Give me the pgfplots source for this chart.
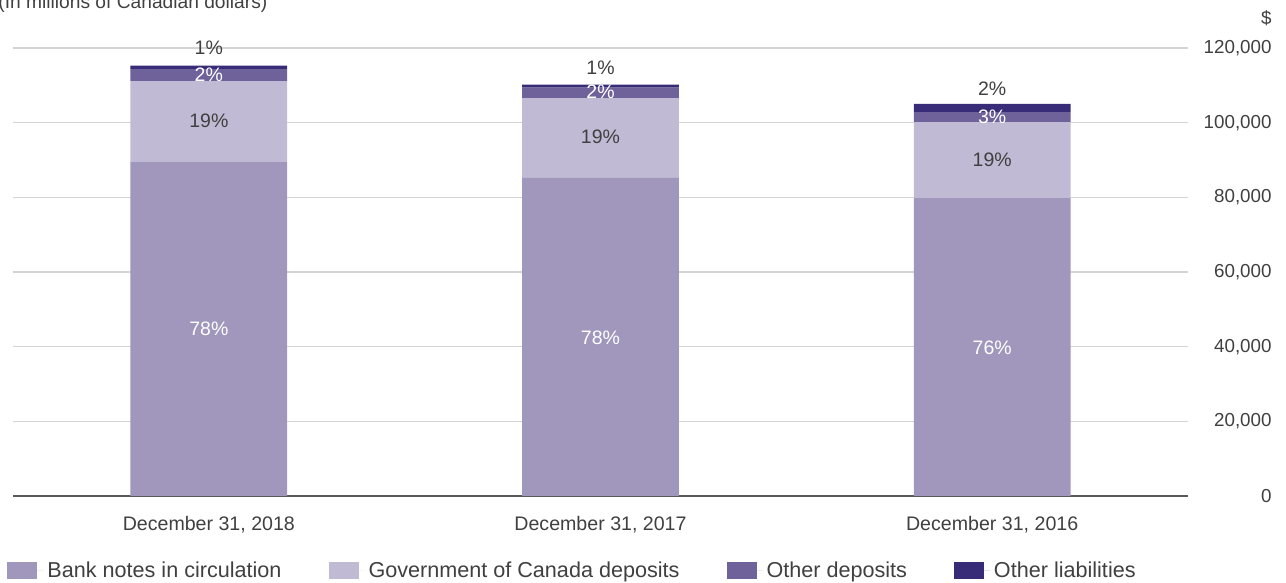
\documentclass[border=0pt]{standalone}
\usepackage{pgfplots}
\pgfplotsset{compat=1.18}
\usepackage{fontspec}
\setmainfont{Liberation Sans}
\definecolor{cA}{HTML}{A196BC}
\definecolor{cB}{HTML}{C1BAD4}
\definecolor{cC}{HTML}{6F6199}
\definecolor{cD}{HTML}{382C78}
\definecolor{txt}{HTML}{404040}
\definecolor{gridc}{HTML}{D4D4D4}
\tikzset{pl/.style={font=\fontsize{9.75}{11}\selectfont}}
\begin{document}
\begin{tikzpicture}
\useasboundingbox (-6.5pt,-43.5pt) rectangle (636.5pt,248pt);
\begin{axis}[
  at={(0pt,0pt)}, anchor=south west,
  scale only axis, width=587.5pt, height=224pt,
  xmin=-0.5, xmax=2.5, ymin=0, ymax=120000,
  ybar stacked, bar width=0.4,
  xtick={0,1,2},
  xticklabels={{December 31, 2018}, {December 31, 2017}, {December 31, 2016}},
  ytick={0,20000,40000,60000,80000,100000,120000},
  yticklabels={0,{20,000},{40,000},{60,000},{80,000},{100,000},{120,000}},
  scaled y ticks=false,
  axis x line*=bottom, axis y line*=right,
  y axis line style={draw=none},
  x axis line style={color=black!65, line width=0.6pt},
  major tick length=0pt,
  ymajorgrids, grid style={color=gridc, line width=0.6pt},
  yticklabel style={anchor=east, inner sep=0pt, xshift=42pt, font=\fontsize{9.4}{11}\selectfont, text=txt},
  xticklabel style={font=\fontsize{9.8}{11}\selectfont, text=txt, yshift=-6.5pt},
  clip=false,
  legend columns=4,
  legend style={at={(-0.0051,-0.1674)}, anchor=west, draw=none, inner sep=0pt,
    font=\fontsize{10.8}{12}\selectfont, text=txt,
    /tikz/every even column/.append style={column sep=21.5pt}},
  legend image code/.code={\fill[#1] (0pt,-4.25pt) rectangle (15pt,4.25pt); \path (0pt,0pt) -- (18pt,0pt);},
  legend cell align=left,
]
\addplot[fill=cA, draw=none] coordinates {(0,89460) (1,85180) (2,79820)};
\addplot[fill=cB, draw=none] coordinates {(0,21690) (1,21420) (2,20350)};
\addplot[fill=cC, draw=none] coordinates {(0,3220) (1,2760) (2,2680)};
\addplot[fill=cD, draw=none] coordinates {(0,890) (1,810) (2,2150)};
\legend{Bank notes in circulation, Government of Canada deposits, Other deposits, Other liabilities}
\coordinate (a1) at (axis cs:0,44700);
\coordinate (a2) at (axis cs:0,100400);
\coordinate (a3) at (axis cs:0,112900);
\coordinate (a4) at (axis cs:0,120000);
\coordinate (b1) at (axis cs:1,42500);
\coordinate (b2) at (axis cs:1,96100);
\coordinate (b3) at (axis cs:1,108200);
\coordinate (b4) at (axis cs:1,114600);
\coordinate (c1) at (axis cs:2,39800);
\coordinate (c2) at (axis cs:2,90000);
\coordinate (c3) at (axis cs:2,101500);
\coordinate (c4) at (axis cs:2,109000);
\end{axis}
\node[pl, text=white] at (a1) {78\%};
\node[pl, text=txt] at (a2) {19\%};
\node[pl, text=white] at (a3) {2\%};
\node[pl, text=txt] at (a4) {1\%};
\node[pl, text=white] at (b1) {78\%};
\node[pl, text=txt] at (b2) {19\%};
\node[pl, text=white] at (b3) {2\%};
\node[pl, text=txt] at (b4) {1\%};
\node[pl, text=white] at (c1) {76\%};
\node[pl, text=txt] at (c2) {19\%};
\node[pl, text=white] at (c3) {3\%};
\node[pl, text=txt] at (c4) {2\%};
\node[anchor=base west, inner sep=0pt, text=txt, font=\fontsize{9.6}{11}\selectfont] at (-7.5pt,243.5pt) {(In millions of Canadian dollars)};
\node[anchor=base east, inner sep=0pt, text=txt, font=\fontsize{9.4}{11}\selectfont] at (629.5pt,235.5pt) {\$};
\end{tikzpicture}
\end{document}
